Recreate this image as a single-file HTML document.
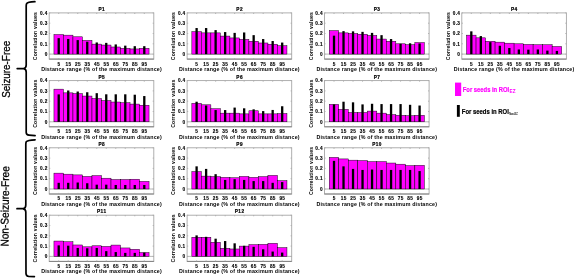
<!DOCTYPE html>
<html><head><meta charset="utf-8"><style>
html,body{margin:0;padding:0;background:#fff;}
body{width:575px;height:279px;overflow:hidden;}
svg{display:block;filter:blur(0.3px);}
text{font-family:"Liberation Sans",sans-serif;}
.t{font-size:4.7px;font-weight:bold;fill:#000;letter-spacing:0.5px;stroke:#000;stroke-width:0.2px;}
.k{font-size:4.7px;font-weight:bold;fill:#000;letter-spacing:0.35px;stroke:#000;stroke-width:0.12px;}
.xl{font-size:5.3px;font-weight:bold;fill:#000;letter-spacing:0.19px;}
.yl{font-size:5.2px;font-weight:bold;fill:#000;letter-spacing:0.17px;}
.sd{font-size:11.2px;fill:#000;stroke:#000;stroke-width:0.3px;}
.lg{font-size:6.9px;font-weight:bold;stroke-width:0.2px;}
.sb{font-size:4.6px;font-weight:bold;}
.sb2{font-size:3.4px;font-weight:bold;}
</style></head><body>
<svg width="575" height="279" viewBox="0 0 575 279">
<rect width="575" height="279" fill="#fff"/>
<path d="M49.20 54.10H153.80" stroke="#9a9a9a" stroke-width="0.7"/>
<rect x="53.95" y="34.53" width="9.51" height="19.57" fill="#ff00ff" stroke="#000" stroke-width="0.45"/>
<rect x="63.46" y="35.15" width="9.51" height="18.95" fill="#ff00ff" stroke="#000" stroke-width="0.45"/>
<rect x="72.97" y="36.80" width="9.51" height="17.30" fill="#ff00ff" stroke="#000" stroke-width="0.45"/>
<rect x="82.48" y="40.40" width="9.51" height="13.70" fill="#ff00ff" stroke="#000" stroke-width="0.45"/>
<rect x="91.99" y="44.11" width="9.51" height="9.99" fill="#ff00ff" stroke="#000" stroke-width="0.45"/>
<rect x="101.50" y="45.04" width="9.51" height="9.06" fill="#ff00ff" stroke="#000" stroke-width="0.45"/>
<rect x="111.01" y="46.99" width="9.51" height="7.11" fill="#ff00ff" stroke="#000" stroke-width="0.45"/>
<rect x="120.52" y="48.33" width="9.51" height="5.77" fill="#ff00ff" stroke="#000" stroke-width="0.45"/>
<rect x="130.03" y="48.95" width="9.51" height="5.15" fill="#ff00ff" stroke="#000" stroke-width="0.45"/>
<rect x="139.54" y="48.33" width="9.51" height="5.77" fill="#ff00ff" stroke="#000" stroke-width="0.45"/>
<rect x="57.56" y="38.14" width="2.30" height="15.96" fill="#000"/>
<rect x="67.07" y="38.96" width="2.30" height="15.14" fill="#000"/>
<rect x="76.58" y="40.09" width="2.30" height="14.01" fill="#000"/>
<rect x="86.09" y="41.74" width="2.30" height="12.36" fill="#000"/>
<rect x="95.60" y="42.46" width="2.30" height="11.64" fill="#000"/>
<rect x="105.10" y="42.87" width="2.30" height="11.23" fill="#000"/>
<rect x="114.61" y="44.42" width="2.30" height="9.68" fill="#000"/>
<rect x="124.12" y="45.65" width="2.30" height="8.45" fill="#000"/>
<rect x="133.63" y="46.17" width="2.30" height="7.93" fill="#000"/>
<rect x="143.14" y="46.17" width="2.30" height="7.93" fill="#000"/>
<rect x="49.20" y="12.90" width="104.60" height="46.20" fill="none" stroke="#a6a6a6" stroke-width="0.9"/>
<path d="M49.20 59.10H153.80" stroke="#7a7a7a" stroke-width="0.9"/>
<path d="M58.71 59.10v-1.1M58.71 12.90v1.1M68.22 59.10v-1.1M68.22 12.90v1.1M77.73 59.10v-1.1M77.73 12.90v1.1M87.24 59.10v-1.1M87.24 12.90v1.1M96.75 59.10v-1.1M96.75 12.90v1.1M106.25 59.10v-1.1M106.25 12.90v1.1M115.76 59.10v-1.1M115.76 12.90v1.1M125.27 59.10v-1.1M125.27 12.90v1.1M134.78 59.10v-1.1M134.78 12.90v1.1M144.29 59.10v-1.1M144.29 12.90v1.1M49.20 54.10h1.1M153.80 54.10h-1.1M49.20 43.80h1.1M153.80 43.80h-1.1M49.20 33.50h1.1M153.80 33.50h-1.1M49.20 23.20h1.1M153.80 23.20h-1.1M49.20 12.90h1.1M153.80 12.90h-1.1" stroke="#a6a6a6" stroke-width="0.8" fill="none"/>
<text x="101.75" y="11.00" class="t" text-anchor="middle">P1</text>
<text x="47.65" y="55.80" class="k" text-anchor="end">0</text>
<text x="47.65" y="45.50" class="k" text-anchor="end">0.1</text>
<text x="47.65" y="35.20" class="k" text-anchor="end">0.2</text>
<text x="47.65" y="24.90" class="k" text-anchor="end">0.3</text>
<text x="47.65" y="14.60" class="k" text-anchor="end">0.4</text>
<text x="58.88" y="65.50" class="k" text-anchor="middle">5</text>
<text x="68.39" y="65.50" class="k" text-anchor="middle">15</text>
<text x="77.90" y="65.50" class="k" text-anchor="middle">25</text>
<text x="87.41" y="65.50" class="k" text-anchor="middle">35</text>
<text x="96.92" y="65.50" class="k" text-anchor="middle">45</text>
<text x="106.42" y="65.50" class="k" text-anchor="middle">55</text>
<text x="115.93" y="65.50" class="k" text-anchor="middle">65</text>
<text x="125.44" y="65.50" class="k" text-anchor="middle">75</text>
<text x="134.95" y="65.50" class="k" text-anchor="middle">85</text>
<text x="144.46" y="65.50" class="k" text-anchor="middle">95</text>
<text x="101.50" y="71.10" class="xl" text-anchor="middle">Distance range (% of the maximum distance)</text>
<text transform="translate(37.40 36.00) rotate(-90)" class="yl" text-anchor="middle">Correlation values</text>
<path d="M187.10 54.10H291.70" stroke="#9a9a9a" stroke-width="0.7"/>
<rect x="191.85" y="31.65" width="9.51" height="22.45" fill="#ff00ff" stroke="#000" stroke-width="0.45"/>
<rect x="201.36" y="32.88" width="9.51" height="21.22" fill="#ff00ff" stroke="#000" stroke-width="0.45"/>
<rect x="210.87" y="32.88" width="9.51" height="21.22" fill="#ff00ff" stroke="#000" stroke-width="0.45"/>
<rect x="220.38" y="36.08" width="9.51" height="18.02" fill="#ff00ff" stroke="#000" stroke-width="0.45"/>
<rect x="229.89" y="37.93" width="9.51" height="16.17" fill="#ff00ff" stroke="#000" stroke-width="0.45"/>
<rect x="239.40" y="39.37" width="9.51" height="14.73" fill="#ff00ff" stroke="#000" stroke-width="0.45"/>
<rect x="248.91" y="41.23" width="9.51" height="12.88" fill="#ff00ff" stroke="#000" stroke-width="0.45"/>
<rect x="258.42" y="42.98" width="9.51" height="11.12" fill="#ff00ff" stroke="#000" stroke-width="0.45"/>
<rect x="267.93" y="44.21" width="9.51" height="9.89" fill="#ff00ff" stroke="#000" stroke-width="0.45"/>
<rect x="277.44" y="45.76" width="9.51" height="8.34" fill="#ff00ff" stroke="#000" stroke-width="0.45"/>
<rect x="195.46" y="28.04" width="2.30" height="26.06" fill="#000"/>
<rect x="204.97" y="28.04" width="2.30" height="26.06" fill="#000"/>
<rect x="214.48" y="30.10" width="2.30" height="24.00" fill="#000"/>
<rect x="223.99" y="32.06" width="2.30" height="22.04" fill="#000"/>
<rect x="233.50" y="32.88" width="2.30" height="21.22" fill="#000"/>
<rect x="243.00" y="32.47" width="2.30" height="21.63" fill="#000"/>
<rect x="252.51" y="35.15" width="2.30" height="18.95" fill="#000"/>
<rect x="262.02" y="39.06" width="2.30" height="15.04" fill="#000"/>
<rect x="271.53" y="41.02" width="2.30" height="13.08" fill="#000"/>
<rect x="281.04" y="42.56" width="2.30" height="11.54" fill="#000"/>
<rect x="187.10" y="12.90" width="104.60" height="46.20" fill="none" stroke="#a6a6a6" stroke-width="0.9"/>
<path d="M187.10 59.10H291.70" stroke="#7a7a7a" stroke-width="0.9"/>
<path d="M196.61 59.10v-1.1M196.61 12.90v1.1M206.12 59.10v-1.1M206.12 12.90v1.1M215.63 59.10v-1.1M215.63 12.90v1.1M225.14 59.10v-1.1M225.14 12.90v1.1M234.65 59.10v-1.1M234.65 12.90v1.1M244.15 59.10v-1.1M244.15 12.90v1.1M253.66 59.10v-1.1M253.66 12.90v1.1M263.17 59.10v-1.1M263.17 12.90v1.1M272.68 59.10v-1.1M272.68 12.90v1.1M282.19 59.10v-1.1M282.19 12.90v1.1M187.10 54.10h1.1M291.70 54.10h-1.1M187.10 43.80h1.1M291.70 43.80h-1.1M187.10 33.50h1.1M291.70 33.50h-1.1M187.10 23.20h1.1M291.70 23.20h-1.1M187.10 12.90h1.1M291.70 12.90h-1.1" stroke="#a6a6a6" stroke-width="0.8" fill="none"/>
<text x="239.65" y="11.00" class="t" text-anchor="middle">P2</text>
<text x="185.55" y="55.80" class="k" text-anchor="end">0</text>
<text x="185.55" y="45.50" class="k" text-anchor="end">0.1</text>
<text x="185.55" y="35.20" class="k" text-anchor="end">0.2</text>
<text x="185.55" y="24.90" class="k" text-anchor="end">0.3</text>
<text x="185.55" y="14.60" class="k" text-anchor="end">0.4</text>
<text x="196.78" y="65.50" class="k" text-anchor="middle">5</text>
<text x="206.29" y="65.50" class="k" text-anchor="middle">15</text>
<text x="215.80" y="65.50" class="k" text-anchor="middle">25</text>
<text x="225.31" y="65.50" class="k" text-anchor="middle">35</text>
<text x="234.82" y="65.50" class="k" text-anchor="middle">45</text>
<text x="244.32" y="65.50" class="k" text-anchor="middle">55</text>
<text x="253.83" y="65.50" class="k" text-anchor="middle">65</text>
<text x="263.34" y="65.50" class="k" text-anchor="middle">75</text>
<text x="272.85" y="65.50" class="k" text-anchor="middle">85</text>
<text x="282.36" y="65.50" class="k" text-anchor="middle">95</text>
<text x="239.40" y="71.10" class="xl" text-anchor="middle">Distance range (% of the maximum distance)</text>
<text transform="translate(175.30 36.00) rotate(-90)" class="yl" text-anchor="middle">Correlation values</text>
<path d="M324.50 54.10H429.10" stroke="#9a9a9a" stroke-width="0.7"/>
<rect x="329.25" y="30.62" width="9.51" height="23.48" fill="#ff00ff" stroke="#000" stroke-width="0.45"/>
<rect x="338.76" y="32.88" width="9.51" height="21.22" fill="#ff00ff" stroke="#000" stroke-width="0.45"/>
<rect x="348.27" y="33.50" width="9.51" height="20.60" fill="#ff00ff" stroke="#000" stroke-width="0.45"/>
<rect x="357.78" y="34.22" width="9.51" height="19.88" fill="#ff00ff" stroke="#000" stroke-width="0.45"/>
<rect x="367.29" y="35.46" width="9.51" height="18.64" fill="#ff00ff" stroke="#000" stroke-width="0.45"/>
<rect x="376.80" y="39.06" width="9.51" height="15.04" fill="#ff00ff" stroke="#000" stroke-width="0.45"/>
<rect x="386.31" y="41.23" width="9.51" height="12.88" fill="#ff00ff" stroke="#000" stroke-width="0.45"/>
<rect x="395.82" y="43.80" width="9.51" height="10.30" fill="#ff00ff" stroke="#000" stroke-width="0.45"/>
<rect x="405.33" y="44.73" width="9.51" height="9.37" fill="#ff00ff" stroke="#000" stroke-width="0.45"/>
<rect x="414.84" y="42.56" width="9.51" height="11.54" fill="#ff00ff" stroke="#000" stroke-width="0.45"/>
<rect x="332.86" y="35.66" width="2.30" height="18.44" fill="#000"/>
<rect x="342.37" y="31.13" width="2.30" height="22.97" fill="#000"/>
<rect x="351.88" y="31.34" width="2.30" height="22.76" fill="#000"/>
<rect x="361.39" y="31.85" width="2.30" height="22.25" fill="#000"/>
<rect x="370.90" y="32.88" width="2.30" height="21.22" fill="#000"/>
<rect x="380.40" y="35.15" width="2.30" height="18.95" fill="#000"/>
<rect x="389.91" y="39.06" width="2.30" height="15.04" fill="#000"/>
<rect x="399.42" y="43.80" width="2.30" height="10.30" fill="#000"/>
<rect x="408.93" y="43.29" width="2.30" height="10.81" fill="#000"/>
<rect x="418.44" y="43.49" width="2.30" height="10.61" fill="#000"/>
<rect x="324.50" y="12.90" width="104.60" height="46.20" fill="none" stroke="#a6a6a6" stroke-width="0.9"/>
<path d="M324.50 59.10H429.10" stroke="#7a7a7a" stroke-width="0.9"/>
<path d="M334.01 59.10v-1.1M334.01 12.90v1.1M343.52 59.10v-1.1M343.52 12.90v1.1M353.03 59.10v-1.1M353.03 12.90v1.1M362.54 59.10v-1.1M362.54 12.90v1.1M372.05 59.10v-1.1M372.05 12.90v1.1M381.55 59.10v-1.1M381.55 12.90v1.1M391.06 59.10v-1.1M391.06 12.90v1.1M400.57 59.10v-1.1M400.57 12.90v1.1M410.08 59.10v-1.1M410.08 12.90v1.1M419.59 59.10v-1.1M419.59 12.90v1.1M324.50 54.10h1.1M429.10 54.10h-1.1M324.50 43.80h1.1M429.10 43.80h-1.1M324.50 33.50h1.1M429.10 33.50h-1.1M324.50 23.20h1.1M429.10 23.20h-1.1M324.50 12.90h1.1M429.10 12.90h-1.1" stroke="#a6a6a6" stroke-width="0.8" fill="none"/>
<text x="377.05" y="11.00" class="t" text-anchor="middle">P3</text>
<text x="322.95" y="55.80" class="k" text-anchor="end">0</text>
<text x="322.95" y="45.50" class="k" text-anchor="end">0.1</text>
<text x="322.95" y="35.20" class="k" text-anchor="end">0.2</text>
<text x="322.95" y="24.90" class="k" text-anchor="end">0.3</text>
<text x="322.95" y="14.60" class="k" text-anchor="end">0.4</text>
<text x="334.18" y="65.50" class="k" text-anchor="middle">5</text>
<text x="343.69" y="65.50" class="k" text-anchor="middle">15</text>
<text x="353.20" y="65.50" class="k" text-anchor="middle">25</text>
<text x="362.71" y="65.50" class="k" text-anchor="middle">35</text>
<text x="372.22" y="65.50" class="k" text-anchor="middle">45</text>
<text x="381.72" y="65.50" class="k" text-anchor="middle">55</text>
<text x="391.23" y="65.50" class="k" text-anchor="middle">65</text>
<text x="400.74" y="65.50" class="k" text-anchor="middle">75</text>
<text x="410.25" y="65.50" class="k" text-anchor="middle">85</text>
<text x="419.76" y="65.50" class="k" text-anchor="middle">95</text>
<text x="376.80" y="71.10" class="xl" text-anchor="middle">Distance range (% of the maximum distance)</text>
<text transform="translate(312.70 36.00) rotate(-90)" class="yl" text-anchor="middle">Correlation values</text>
<path d="M461.80 54.10H566.40" stroke="#9a9a9a" stroke-width="0.7"/>
<rect x="466.55" y="35.15" width="9.51" height="18.95" fill="#ff00ff" stroke="#000" stroke-width="0.45"/>
<rect x="476.06" y="37.83" width="9.51" height="16.27" fill="#ff00ff" stroke="#000" stroke-width="0.45"/>
<rect x="485.57" y="41.23" width="9.51" height="12.88" fill="#ff00ff" stroke="#000" stroke-width="0.45"/>
<rect x="495.08" y="42.15" width="9.51" height="11.95" fill="#ff00ff" stroke="#000" stroke-width="0.45"/>
<rect x="504.59" y="43.18" width="9.51" height="10.92" fill="#ff00ff" stroke="#000" stroke-width="0.45"/>
<rect x="514.10" y="43.80" width="9.51" height="10.30" fill="#ff00ff" stroke="#000" stroke-width="0.45"/>
<rect x="523.61" y="44.42" width="9.51" height="9.68" fill="#ff00ff" stroke="#000" stroke-width="0.45"/>
<rect x="533.12" y="44.73" width="9.51" height="9.37" fill="#ff00ff" stroke="#000" stroke-width="0.45"/>
<rect x="542.63" y="44.73" width="9.51" height="9.37" fill="#ff00ff" stroke="#000" stroke-width="0.45"/>
<rect x="552.14" y="46.48" width="9.51" height="7.62" fill="#ff00ff" stroke="#000" stroke-width="0.45"/>
<rect x="470.16" y="31.34" width="2.30" height="22.76" fill="#000"/>
<rect x="479.67" y="36.08" width="2.30" height="18.02" fill="#000"/>
<rect x="489.18" y="42.15" width="2.30" height="11.95" fill="#000"/>
<rect x="498.69" y="45.76" width="2.30" height="8.34" fill="#000"/>
<rect x="508.20" y="48.02" width="2.30" height="6.08" fill="#000"/>
<rect x="517.70" y="49.47" width="2.30" height="4.63" fill="#000"/>
<rect x="527.21" y="49.67" width="2.30" height="4.43" fill="#000"/>
<rect x="536.72" y="49.47" width="2.30" height="4.63" fill="#000"/>
<rect x="546.23" y="50.60" width="2.30" height="3.50" fill="#000"/>
<rect x="555.74" y="50.91" width="2.30" height="3.19" fill="#000"/>
<rect x="461.80" y="12.90" width="104.60" height="46.20" fill="none" stroke="#a6a6a6" stroke-width="0.9"/>
<path d="M461.80 59.10H566.40" stroke="#7a7a7a" stroke-width="0.9"/>
<path d="M471.31 59.10v-1.1M471.31 12.90v1.1M480.82 59.10v-1.1M480.82 12.90v1.1M490.33 59.10v-1.1M490.33 12.90v1.1M499.84 59.10v-1.1M499.84 12.90v1.1M509.35 59.10v-1.1M509.35 12.90v1.1M518.85 59.10v-1.1M518.85 12.90v1.1M528.36 59.10v-1.1M528.36 12.90v1.1M537.87 59.10v-1.1M537.87 12.90v1.1M547.38 59.10v-1.1M547.38 12.90v1.1M556.89 59.10v-1.1M556.89 12.90v1.1M461.80 54.10h1.1M566.40 54.10h-1.1M461.80 43.80h1.1M566.40 43.80h-1.1M461.80 33.50h1.1M566.40 33.50h-1.1M461.80 23.20h1.1M566.40 23.20h-1.1M461.80 12.90h1.1M566.40 12.90h-1.1" stroke="#a6a6a6" stroke-width="0.8" fill="none"/>
<text x="514.35" y="11.00" class="t" text-anchor="middle">P4</text>
<text x="460.25" y="55.80" class="k" text-anchor="end">0</text>
<text x="460.25" y="45.50" class="k" text-anchor="end">0.1</text>
<text x="460.25" y="35.20" class="k" text-anchor="end">0.2</text>
<text x="460.25" y="24.90" class="k" text-anchor="end">0.3</text>
<text x="460.25" y="14.60" class="k" text-anchor="end">0.4</text>
<text x="471.48" y="65.50" class="k" text-anchor="middle">5</text>
<text x="480.99" y="65.50" class="k" text-anchor="middle">15</text>
<text x="490.50" y="65.50" class="k" text-anchor="middle">25</text>
<text x="500.01" y="65.50" class="k" text-anchor="middle">35</text>
<text x="509.52" y="65.50" class="k" text-anchor="middle">45</text>
<text x="519.02" y="65.50" class="k" text-anchor="middle">55</text>
<text x="528.53" y="65.50" class="k" text-anchor="middle">65</text>
<text x="538.04" y="65.50" class="k" text-anchor="middle">75</text>
<text x="547.55" y="65.50" class="k" text-anchor="middle">85</text>
<text x="557.06" y="65.50" class="k" text-anchor="middle">95</text>
<text x="514.10" y="71.10" class="xl" text-anchor="middle">Distance range (% of the maximum distance)</text>
<text transform="translate(450.00 36.00) rotate(-90)" class="yl" text-anchor="middle">Correlation values</text>
<path d="M49.20 121.80H153.80" stroke="#9a9a9a" stroke-width="0.7"/>
<rect x="53.95" y="89.15" width="9.51" height="32.65" fill="#ff00ff" stroke="#000" stroke-width="0.45"/>
<rect x="63.46" y="92.86" width="9.51" height="28.94" fill="#ff00ff" stroke="#000" stroke-width="0.45"/>
<rect x="72.97" y="93.58" width="9.51" height="28.22" fill="#ff00ff" stroke="#000" stroke-width="0.45"/>
<rect x="82.48" y="96.05" width="9.51" height="25.75" fill="#ff00ff" stroke="#000" stroke-width="0.45"/>
<rect x="91.99" y="98.52" width="9.51" height="23.28" fill="#ff00ff" stroke="#000" stroke-width="0.45"/>
<rect x="101.50" y="100.58" width="9.51" height="21.22" fill="#ff00ff" stroke="#000" stroke-width="0.45"/>
<rect x="111.01" y="102.02" width="9.51" height="19.78" fill="#ff00ff" stroke="#000" stroke-width="0.45"/>
<rect x="120.52" y="102.75" width="9.51" height="19.05" fill="#ff00ff" stroke="#000" stroke-width="0.45"/>
<rect x="130.03" y="104.08" width="9.51" height="17.72" fill="#ff00ff" stroke="#000" stroke-width="0.45"/>
<rect x="139.54" y="105.22" width="9.51" height="16.58" fill="#ff00ff" stroke="#000" stroke-width="0.45"/>
<rect x="57.56" y="94.40" width="2.30" height="27.40" fill="#000"/>
<rect x="67.07" y="90.49" width="2.30" height="31.31" fill="#000"/>
<rect x="76.58" y="91.52" width="2.30" height="30.28" fill="#000"/>
<rect x="86.09" y="92.24" width="2.30" height="29.56" fill="#000"/>
<rect x="95.60" y="93.17" width="2.30" height="28.63" fill="#000"/>
<rect x="105.10" y="94.30" width="2.30" height="27.50" fill="#000"/>
<rect x="114.61" y="94.30" width="2.30" height="27.50" fill="#000"/>
<rect x="124.12" y="94.30" width="2.30" height="27.50" fill="#000"/>
<rect x="133.63" y="94.71" width="2.30" height="27.09" fill="#000"/>
<rect x="143.14" y="96.05" width="2.30" height="25.75" fill="#000"/>
<rect x="49.20" y="80.60" width="104.60" height="46.20" fill="none" stroke="#a6a6a6" stroke-width="0.9"/>
<path d="M49.20 126.80H153.80" stroke="#7a7a7a" stroke-width="0.9"/>
<path d="M58.71 126.80v-1.1M58.71 80.60v1.1M68.22 126.80v-1.1M68.22 80.60v1.1M77.73 126.80v-1.1M77.73 80.60v1.1M87.24 126.80v-1.1M87.24 80.60v1.1M96.75 126.80v-1.1M96.75 80.60v1.1M106.25 126.80v-1.1M106.25 80.60v1.1M115.76 126.80v-1.1M115.76 80.60v1.1M125.27 126.80v-1.1M125.27 80.60v1.1M134.78 126.80v-1.1M134.78 80.60v1.1M144.29 126.80v-1.1M144.29 80.60v1.1M49.20 121.80h1.1M153.80 121.80h-1.1M49.20 111.50h1.1M153.80 111.50h-1.1M49.20 101.20h1.1M153.80 101.20h-1.1M49.20 90.90h1.1M153.80 90.90h-1.1M49.20 80.60h1.1M153.80 80.60h-1.1" stroke="#a6a6a6" stroke-width="0.8" fill="none"/>
<text x="101.75" y="78.70" class="t" text-anchor="middle">P5</text>
<text x="47.65" y="123.50" class="k" text-anchor="end">0</text>
<text x="47.65" y="113.20" class="k" text-anchor="end">0.1</text>
<text x="47.65" y="102.90" class="k" text-anchor="end">0.2</text>
<text x="47.65" y="92.60" class="k" text-anchor="end">0.3</text>
<text x="47.65" y="82.30" class="k" text-anchor="end">0.4</text>
<text x="58.88" y="133.20" class="k" text-anchor="middle">5</text>
<text x="68.39" y="133.20" class="k" text-anchor="middle">15</text>
<text x="77.90" y="133.20" class="k" text-anchor="middle">25</text>
<text x="87.41" y="133.20" class="k" text-anchor="middle">35</text>
<text x="96.92" y="133.20" class="k" text-anchor="middle">45</text>
<text x="106.42" y="133.20" class="k" text-anchor="middle">55</text>
<text x="115.93" y="133.20" class="k" text-anchor="middle">65</text>
<text x="125.44" y="133.20" class="k" text-anchor="middle">75</text>
<text x="134.95" y="133.20" class="k" text-anchor="middle">85</text>
<text x="144.46" y="133.20" class="k" text-anchor="middle">95</text>
<text x="101.50" y="138.80" class="xl" text-anchor="middle">Distance range (% of the maximum distance)</text>
<text transform="translate(37.40 103.70) rotate(-90)" class="yl" text-anchor="middle">Correlation values</text>
<path d="M187.10 121.80H291.70" stroke="#9a9a9a" stroke-width="0.7"/>
<rect x="191.85" y="103.36" width="9.51" height="18.44" fill="#ff00ff" stroke="#000" stroke-width="0.45"/>
<rect x="201.36" y="104.80" width="9.51" height="17.00" fill="#ff00ff" stroke="#000" stroke-width="0.45"/>
<rect x="210.87" y="108.72" width="9.51" height="13.08" fill="#ff00ff" stroke="#000" stroke-width="0.45"/>
<rect x="220.38" y="113.15" width="9.51" height="8.65" fill="#ff00ff" stroke="#000" stroke-width="0.45"/>
<rect x="229.89" y="113.15" width="9.51" height="8.65" fill="#ff00ff" stroke="#000" stroke-width="0.45"/>
<rect x="239.40" y="113.87" width="9.51" height="7.93" fill="#ff00ff" stroke="#000" stroke-width="0.45"/>
<rect x="248.91" y="110.78" width="9.51" height="11.02" fill="#ff00ff" stroke="#000" stroke-width="0.45"/>
<rect x="258.42" y="113.87" width="9.51" height="7.93" fill="#ff00ff" stroke="#000" stroke-width="0.45"/>
<rect x="267.93" y="113.87" width="9.51" height="7.93" fill="#ff00ff" stroke="#000" stroke-width="0.45"/>
<rect x="277.44" y="113.56" width="9.51" height="8.24" fill="#ff00ff" stroke="#000" stroke-width="0.45"/>
<rect x="195.46" y="101.72" width="2.30" height="20.09" fill="#000"/>
<rect x="204.97" y="105.53" width="2.30" height="16.27" fill="#000"/>
<rect x="214.48" y="110.06" width="2.30" height="11.74" fill="#000"/>
<rect x="223.99" y="110.06" width="2.30" height="11.74" fill="#000"/>
<rect x="233.50" y="107.59" width="2.30" height="14.21" fill="#000"/>
<rect x="243.00" y="108.31" width="2.30" height="13.49" fill="#000"/>
<rect x="252.51" y="109.34" width="2.30" height="12.46" fill="#000"/>
<rect x="262.02" y="111.09" width="2.30" height="10.71" fill="#000"/>
<rect x="271.53" y="109.95" width="2.30" height="11.85" fill="#000"/>
<rect x="281.04" y="106.25" width="2.30" height="15.55" fill="#000"/>
<rect x="187.10" y="80.60" width="104.60" height="46.20" fill="none" stroke="#a6a6a6" stroke-width="0.9"/>
<path d="M187.10 126.80H291.70" stroke="#7a7a7a" stroke-width="0.9"/>
<path d="M196.61 126.80v-1.1M196.61 80.60v1.1M206.12 126.80v-1.1M206.12 80.60v1.1M215.63 126.80v-1.1M215.63 80.60v1.1M225.14 126.80v-1.1M225.14 80.60v1.1M234.65 126.80v-1.1M234.65 80.60v1.1M244.15 126.80v-1.1M244.15 80.60v1.1M253.66 126.80v-1.1M253.66 80.60v1.1M263.17 126.80v-1.1M263.17 80.60v1.1M272.68 126.80v-1.1M272.68 80.60v1.1M282.19 126.80v-1.1M282.19 80.60v1.1M187.10 121.80h1.1M291.70 121.80h-1.1M187.10 111.50h1.1M291.70 111.50h-1.1M187.10 101.20h1.1M291.70 101.20h-1.1M187.10 90.90h1.1M291.70 90.90h-1.1M187.10 80.60h1.1M291.70 80.60h-1.1" stroke="#a6a6a6" stroke-width="0.8" fill="none"/>
<text x="239.65" y="78.70" class="t" text-anchor="middle">P6</text>
<text x="185.55" y="123.50" class="k" text-anchor="end">0</text>
<text x="185.55" y="113.20" class="k" text-anchor="end">0.1</text>
<text x="185.55" y="102.90" class="k" text-anchor="end">0.2</text>
<text x="185.55" y="92.60" class="k" text-anchor="end">0.3</text>
<text x="185.55" y="82.30" class="k" text-anchor="end">0.4</text>
<text x="196.78" y="133.20" class="k" text-anchor="middle">5</text>
<text x="206.29" y="133.20" class="k" text-anchor="middle">15</text>
<text x="215.80" y="133.20" class="k" text-anchor="middle">25</text>
<text x="225.31" y="133.20" class="k" text-anchor="middle">35</text>
<text x="234.82" y="133.20" class="k" text-anchor="middle">45</text>
<text x="244.32" y="133.20" class="k" text-anchor="middle">55</text>
<text x="253.83" y="133.20" class="k" text-anchor="middle">65</text>
<text x="263.34" y="133.20" class="k" text-anchor="middle">75</text>
<text x="272.85" y="133.20" class="k" text-anchor="middle">85</text>
<text x="282.36" y="133.20" class="k" text-anchor="middle">95</text>
<text x="239.40" y="138.80" class="xl" text-anchor="middle">Distance range (% of the maximum distance)</text>
<text transform="translate(175.30 103.70) rotate(-90)" class="yl" text-anchor="middle">Correlation values</text>
<path d="M324.50 121.80H429.10" stroke="#9a9a9a" stroke-width="0.7"/>
<rect x="329.25" y="104.39" width="9.51" height="17.41" fill="#ff00ff" stroke="#000" stroke-width="0.45"/>
<rect x="338.76" y="109.34" width="9.51" height="12.46" fill="#ff00ff" stroke="#000" stroke-width="0.45"/>
<rect x="348.27" y="112.53" width="9.51" height="9.27" fill="#ff00ff" stroke="#000" stroke-width="0.45"/>
<rect x="357.78" y="112.53" width="9.51" height="9.27" fill="#ff00ff" stroke="#000" stroke-width="0.45"/>
<rect x="367.29" y="111.09" width="9.51" height="10.71" fill="#ff00ff" stroke="#000" stroke-width="0.45"/>
<rect x="376.80" y="113.15" width="9.51" height="8.65" fill="#ff00ff" stroke="#000" stroke-width="0.45"/>
<rect x="386.31" y="114.59" width="9.51" height="7.21" fill="#ff00ff" stroke="#000" stroke-width="0.45"/>
<rect x="395.82" y="115.31" width="9.51" height="6.49" fill="#ff00ff" stroke="#000" stroke-width="0.45"/>
<rect x="405.33" y="115.72" width="9.51" height="6.08" fill="#ff00ff" stroke="#000" stroke-width="0.45"/>
<rect x="414.84" y="115.31" width="9.51" height="6.49" fill="#ff00ff" stroke="#000" stroke-width="0.45"/>
<rect x="332.86" y="104.39" width="2.30" height="17.41" fill="#000"/>
<rect x="342.37" y="101.72" width="2.30" height="20.09" fill="#000"/>
<rect x="351.88" y="102.33" width="2.30" height="19.47" fill="#000"/>
<rect x="361.39" y="104.39" width="2.30" height="17.41" fill="#000"/>
<rect x="370.90" y="103.78" width="2.30" height="18.02" fill="#000"/>
<rect x="380.40" y="104.08" width="2.30" height="17.72" fill="#000"/>
<rect x="389.91" y="104.08" width="2.30" height="17.72" fill="#000"/>
<rect x="399.42" y="104.08" width="2.30" height="17.72" fill="#000"/>
<rect x="408.93" y="104.80" width="2.30" height="17.00" fill="#000"/>
<rect x="418.44" y="105.53" width="2.30" height="16.27" fill="#000"/>
<rect x="324.50" y="80.60" width="104.60" height="46.20" fill="none" stroke="#a6a6a6" stroke-width="0.9"/>
<path d="M324.50 126.80H429.10" stroke="#7a7a7a" stroke-width="0.9"/>
<path d="M334.01 126.80v-1.1M334.01 80.60v1.1M343.52 126.80v-1.1M343.52 80.60v1.1M353.03 126.80v-1.1M353.03 80.60v1.1M362.54 126.80v-1.1M362.54 80.60v1.1M372.05 126.80v-1.1M372.05 80.60v1.1M381.55 126.80v-1.1M381.55 80.60v1.1M391.06 126.80v-1.1M391.06 80.60v1.1M400.57 126.80v-1.1M400.57 80.60v1.1M410.08 126.80v-1.1M410.08 80.60v1.1M419.59 126.80v-1.1M419.59 80.60v1.1M324.50 121.80h1.1M429.10 121.80h-1.1M324.50 111.50h1.1M429.10 111.50h-1.1M324.50 101.20h1.1M429.10 101.20h-1.1M324.50 90.90h1.1M429.10 90.90h-1.1M324.50 80.60h1.1M429.10 80.60h-1.1" stroke="#a6a6a6" stroke-width="0.8" fill="none"/>
<text x="377.05" y="78.70" class="t" text-anchor="middle">P7</text>
<text x="322.95" y="123.50" class="k" text-anchor="end">0</text>
<text x="322.95" y="113.20" class="k" text-anchor="end">0.1</text>
<text x="322.95" y="102.90" class="k" text-anchor="end">0.2</text>
<text x="322.95" y="92.60" class="k" text-anchor="end">0.3</text>
<text x="322.95" y="82.30" class="k" text-anchor="end">0.4</text>
<text x="334.18" y="133.20" class="k" text-anchor="middle">5</text>
<text x="343.69" y="133.20" class="k" text-anchor="middle">15</text>
<text x="353.20" y="133.20" class="k" text-anchor="middle">25</text>
<text x="362.71" y="133.20" class="k" text-anchor="middle">35</text>
<text x="372.22" y="133.20" class="k" text-anchor="middle">45</text>
<text x="381.72" y="133.20" class="k" text-anchor="middle">55</text>
<text x="391.23" y="133.20" class="k" text-anchor="middle">65</text>
<text x="400.74" y="133.20" class="k" text-anchor="middle">75</text>
<text x="410.25" y="133.20" class="k" text-anchor="middle">85</text>
<text x="419.76" y="133.20" class="k" text-anchor="middle">95</text>
<text x="376.80" y="138.80" class="xl" text-anchor="middle">Distance range (% of the maximum distance)</text>
<text transform="translate(312.70 103.70) rotate(-90)" class="yl" text-anchor="middle">Correlation values</text>
<path d="M49.20 189.00H153.80" stroke="#9a9a9a" stroke-width="0.7"/>
<rect x="53.95" y="173.14" width="9.51" height="15.86" fill="#ff00ff" stroke="#000" stroke-width="0.45"/>
<rect x="63.46" y="174.17" width="9.51" height="14.83" fill="#ff00ff" stroke="#000" stroke-width="0.45"/>
<rect x="72.97" y="174.89" width="9.51" height="14.11" fill="#ff00ff" stroke="#000" stroke-width="0.45"/>
<rect x="82.48" y="176.43" width="9.51" height="12.57" fill="#ff00ff" stroke="#000" stroke-width="0.45"/>
<rect x="91.99" y="175.61" width="9.51" height="13.39" fill="#ff00ff" stroke="#000" stroke-width="0.45"/>
<rect x="101.50" y="178.19" width="9.51" height="10.81" fill="#ff00ff" stroke="#000" stroke-width="0.45"/>
<rect x="111.01" y="179.52" width="9.51" height="9.48" fill="#ff00ff" stroke="#000" stroke-width="0.45"/>
<rect x="120.52" y="179.52" width="9.51" height="9.48" fill="#ff00ff" stroke="#000" stroke-width="0.45"/>
<rect x="130.03" y="179.22" width="9.51" height="9.79" fill="#ff00ff" stroke="#000" stroke-width="0.45"/>
<rect x="139.54" y="181.38" width="9.51" height="7.62" fill="#ff00ff" stroke="#000" stroke-width="0.45"/>
<rect x="57.56" y="182.82" width="2.30" height="6.18" fill="#000"/>
<rect x="67.07" y="182.82" width="2.30" height="6.18" fill="#000"/>
<rect x="76.58" y="182.51" width="2.30" height="6.49" fill="#000"/>
<rect x="86.09" y="183.23" width="2.30" height="5.77" fill="#000"/>
<rect x="95.60" y="184.67" width="2.30" height="4.33" fill="#000"/>
<rect x="105.10" y="184.67" width="2.30" height="4.33" fill="#000"/>
<rect x="114.61" y="184.98" width="2.30" height="4.02" fill="#000"/>
<rect x="124.12" y="184.98" width="2.30" height="4.02" fill="#000"/>
<rect x="133.63" y="184.98" width="2.30" height="4.02" fill="#000"/>
<rect x="143.14" y="184.98" width="2.30" height="4.02" fill="#000"/>
<rect x="49.20" y="147.80" width="104.60" height="46.20" fill="none" stroke="#a6a6a6" stroke-width="0.9"/>
<path d="M49.20 194.00H153.80" stroke="#7a7a7a" stroke-width="0.9"/>
<path d="M58.71 194.00v-1.1M58.71 147.80v1.1M68.22 194.00v-1.1M68.22 147.80v1.1M77.73 194.00v-1.1M77.73 147.80v1.1M87.24 194.00v-1.1M87.24 147.80v1.1M96.75 194.00v-1.1M96.75 147.80v1.1M106.25 194.00v-1.1M106.25 147.80v1.1M115.76 194.00v-1.1M115.76 147.80v1.1M125.27 194.00v-1.1M125.27 147.80v1.1M134.78 194.00v-1.1M134.78 147.80v1.1M144.29 194.00v-1.1M144.29 147.80v1.1M49.20 189.00h1.1M153.80 189.00h-1.1M49.20 178.70h1.1M153.80 178.70h-1.1M49.20 168.40h1.1M153.80 168.40h-1.1M49.20 158.10h1.1M153.80 158.10h-1.1M49.20 147.80h1.1M153.80 147.80h-1.1" stroke="#a6a6a6" stroke-width="0.8" fill="none"/>
<text x="101.75" y="145.90" class="t" text-anchor="middle">P8</text>
<text x="47.65" y="190.70" class="k" text-anchor="end">0</text>
<text x="47.65" y="180.40" class="k" text-anchor="end">0.1</text>
<text x="47.65" y="170.10" class="k" text-anchor="end">0.2</text>
<text x="47.65" y="159.80" class="k" text-anchor="end">0.3</text>
<text x="47.65" y="149.50" class="k" text-anchor="end">0.4</text>
<text x="58.88" y="200.40" class="k" text-anchor="middle">5</text>
<text x="68.39" y="200.40" class="k" text-anchor="middle">15</text>
<text x="77.90" y="200.40" class="k" text-anchor="middle">25</text>
<text x="87.41" y="200.40" class="k" text-anchor="middle">35</text>
<text x="96.92" y="200.40" class="k" text-anchor="middle">45</text>
<text x="106.42" y="200.40" class="k" text-anchor="middle">55</text>
<text x="115.93" y="200.40" class="k" text-anchor="middle">65</text>
<text x="125.44" y="200.40" class="k" text-anchor="middle">75</text>
<text x="134.95" y="200.40" class="k" text-anchor="middle">85</text>
<text x="144.46" y="200.40" class="k" text-anchor="middle">95</text>
<text x="101.50" y="206.00" class="xl" text-anchor="middle">Distance range (% of the maximum distance)</text>
<text transform="translate(37.40 170.90) rotate(-90)" class="yl" text-anchor="middle">Correlation values</text>
<path d="M187.10 189.00H291.70" stroke="#9a9a9a" stroke-width="0.7"/>
<rect x="191.85" y="171.59" width="9.51" height="17.41" fill="#ff00ff" stroke="#000" stroke-width="0.45"/>
<rect x="201.36" y="176.12" width="9.51" height="12.88" fill="#ff00ff" stroke="#000" stroke-width="0.45"/>
<rect x="210.87" y="176.64" width="9.51" height="12.36" fill="#ff00ff" stroke="#000" stroke-width="0.45"/>
<rect x="220.38" y="177.36" width="9.51" height="11.64" fill="#ff00ff" stroke="#000" stroke-width="0.45"/>
<rect x="229.89" y="177.77" width="9.51" height="11.23" fill="#ff00ff" stroke="#000" stroke-width="0.45"/>
<rect x="239.40" y="176.43" width="9.51" height="12.57" fill="#ff00ff" stroke="#000" stroke-width="0.45"/>
<rect x="248.91" y="177.36" width="9.51" height="11.64" fill="#ff00ff" stroke="#000" stroke-width="0.45"/>
<rect x="258.42" y="176.64" width="9.51" height="12.36" fill="#ff00ff" stroke="#000" stroke-width="0.45"/>
<rect x="267.93" y="175.40" width="9.51" height="13.60" fill="#ff00ff" stroke="#000" stroke-width="0.45"/>
<rect x="277.44" y="180.66" width="9.51" height="8.34" fill="#ff00ff" stroke="#000" stroke-width="0.45"/>
<rect x="195.46" y="166.34" width="2.30" height="22.66" fill="#000"/>
<rect x="204.97" y="168.91" width="2.30" height="20.09" fill="#000"/>
<rect x="214.48" y="174.17" width="2.30" height="14.83" fill="#000"/>
<rect x="223.99" y="179.94" width="2.30" height="9.06" fill="#000"/>
<rect x="233.50" y="179.22" width="2.30" height="9.79" fill="#000"/>
<rect x="243.00" y="179.94" width="2.30" height="9.06" fill="#000"/>
<rect x="252.51" y="181.07" width="2.30" height="7.93" fill="#000"/>
<rect x="262.02" y="181.07" width="2.30" height="7.93" fill="#000"/>
<rect x="271.53" y="182.82" width="2.30" height="6.18" fill="#000"/>
<rect x="281.04" y="182.10" width="2.30" height="6.90" fill="#000"/>
<rect x="187.10" y="147.80" width="104.60" height="46.20" fill="none" stroke="#a6a6a6" stroke-width="0.9"/>
<path d="M187.10 194.00H291.70" stroke="#7a7a7a" stroke-width="0.9"/>
<path d="M196.61 194.00v-1.1M196.61 147.80v1.1M206.12 194.00v-1.1M206.12 147.80v1.1M215.63 194.00v-1.1M215.63 147.80v1.1M225.14 194.00v-1.1M225.14 147.80v1.1M234.65 194.00v-1.1M234.65 147.80v1.1M244.15 194.00v-1.1M244.15 147.80v1.1M253.66 194.00v-1.1M253.66 147.80v1.1M263.17 194.00v-1.1M263.17 147.80v1.1M272.68 194.00v-1.1M272.68 147.80v1.1M282.19 194.00v-1.1M282.19 147.80v1.1M187.10 189.00h1.1M291.70 189.00h-1.1M187.10 178.70h1.1M291.70 178.70h-1.1M187.10 168.40h1.1M291.70 168.40h-1.1M187.10 158.10h1.1M291.70 158.10h-1.1M187.10 147.80h1.1M291.70 147.80h-1.1" stroke="#a6a6a6" stroke-width="0.8" fill="none"/>
<text x="239.65" y="145.90" class="t" text-anchor="middle">P9</text>
<text x="185.55" y="190.70" class="k" text-anchor="end">0</text>
<text x="185.55" y="180.40" class="k" text-anchor="end">0.1</text>
<text x="185.55" y="170.10" class="k" text-anchor="end">0.2</text>
<text x="185.55" y="159.80" class="k" text-anchor="end">0.3</text>
<text x="185.55" y="149.50" class="k" text-anchor="end">0.4</text>
<text x="196.78" y="200.40" class="k" text-anchor="middle">5</text>
<text x="206.29" y="200.40" class="k" text-anchor="middle">15</text>
<text x="215.80" y="200.40" class="k" text-anchor="middle">25</text>
<text x="225.31" y="200.40" class="k" text-anchor="middle">35</text>
<text x="234.82" y="200.40" class="k" text-anchor="middle">45</text>
<text x="244.32" y="200.40" class="k" text-anchor="middle">55</text>
<text x="253.83" y="200.40" class="k" text-anchor="middle">65</text>
<text x="263.34" y="200.40" class="k" text-anchor="middle">75</text>
<text x="272.85" y="200.40" class="k" text-anchor="middle">85</text>
<text x="282.36" y="200.40" class="k" text-anchor="middle">95</text>
<text x="239.40" y="206.00" class="xl" text-anchor="middle">Distance range (% of the maximum distance)</text>
<text transform="translate(175.30 170.90) rotate(-90)" class="yl" text-anchor="middle">Correlation values</text>
<path d="M324.50 189.00H429.10" stroke="#9a9a9a" stroke-width="0.7"/>
<rect x="329.25" y="157.38" width="9.51" height="31.62" fill="#ff00ff" stroke="#000" stroke-width="0.45"/>
<rect x="338.76" y="158.92" width="9.51" height="30.08" fill="#ff00ff" stroke="#000" stroke-width="0.45"/>
<rect x="348.27" y="160.16" width="9.51" height="28.84" fill="#ff00ff" stroke="#000" stroke-width="0.45"/>
<rect x="357.78" y="160.57" width="9.51" height="28.43" fill="#ff00ff" stroke="#000" stroke-width="0.45"/>
<rect x="367.29" y="161.60" width="9.51" height="27.40" fill="#ff00ff" stroke="#000" stroke-width="0.45"/>
<rect x="376.80" y="161.60" width="9.51" height="27.40" fill="#ff00ff" stroke="#000" stroke-width="0.45"/>
<rect x="386.31" y="163.04" width="9.51" height="25.96" fill="#ff00ff" stroke="#000" stroke-width="0.45"/>
<rect x="395.82" y="164.18" width="9.51" height="24.82" fill="#ff00ff" stroke="#000" stroke-width="0.45"/>
<rect x="405.33" y="165.62" width="9.51" height="23.38" fill="#ff00ff" stroke="#000" stroke-width="0.45"/>
<rect x="414.84" y="165.31" width="9.51" height="23.69" fill="#ff00ff" stroke="#000" stroke-width="0.45"/>
<rect x="332.86" y="160.88" width="2.30" height="28.12" fill="#000"/>
<rect x="342.37" y="166.34" width="2.30" height="22.66" fill="#000"/>
<rect x="351.88" y="168.91" width="2.30" height="20.09" fill="#000"/>
<rect x="361.39" y="169.94" width="2.30" height="19.05" fill="#000"/>
<rect x="370.90" y="169.53" width="2.30" height="19.47" fill="#000"/>
<rect x="380.40" y="169.94" width="2.30" height="19.05" fill="#000"/>
<rect x="389.91" y="169.94" width="2.30" height="19.05" fill="#000"/>
<rect x="399.42" y="169.94" width="2.30" height="19.05" fill="#000"/>
<rect x="408.93" y="169.94" width="2.30" height="19.05" fill="#000"/>
<rect x="418.44" y="171.08" width="2.30" height="17.92" fill="#000"/>
<rect x="324.50" y="147.80" width="104.60" height="46.20" fill="none" stroke="#a6a6a6" stroke-width="0.9"/>
<path d="M324.50 194.00H429.10" stroke="#7a7a7a" stroke-width="0.9"/>
<path d="M334.01 194.00v-1.1M334.01 147.80v1.1M343.52 194.00v-1.1M343.52 147.80v1.1M353.03 194.00v-1.1M353.03 147.80v1.1M362.54 194.00v-1.1M362.54 147.80v1.1M372.05 194.00v-1.1M372.05 147.80v1.1M381.55 194.00v-1.1M381.55 147.80v1.1M391.06 194.00v-1.1M391.06 147.80v1.1M400.57 194.00v-1.1M400.57 147.80v1.1M410.08 194.00v-1.1M410.08 147.80v1.1M419.59 194.00v-1.1M419.59 147.80v1.1M324.50 189.00h1.1M429.10 189.00h-1.1M324.50 178.70h1.1M429.10 178.70h-1.1M324.50 168.40h1.1M429.10 168.40h-1.1M324.50 158.10h1.1M429.10 158.10h-1.1M324.50 147.80h1.1M429.10 147.80h-1.1" stroke="#a6a6a6" stroke-width="0.8" fill="none"/>
<text x="377.05" y="145.90" class="t" text-anchor="middle">P10</text>
<text x="322.95" y="190.70" class="k" text-anchor="end">0</text>
<text x="322.95" y="180.40" class="k" text-anchor="end">0.1</text>
<text x="322.95" y="170.10" class="k" text-anchor="end">0.2</text>
<text x="322.95" y="159.80" class="k" text-anchor="end">0.3</text>
<text x="322.95" y="149.50" class="k" text-anchor="end">0.4</text>
<text x="334.18" y="200.40" class="k" text-anchor="middle">5</text>
<text x="343.69" y="200.40" class="k" text-anchor="middle">15</text>
<text x="353.20" y="200.40" class="k" text-anchor="middle">25</text>
<text x="362.71" y="200.40" class="k" text-anchor="middle">35</text>
<text x="372.22" y="200.40" class="k" text-anchor="middle">45</text>
<text x="381.72" y="200.40" class="k" text-anchor="middle">55</text>
<text x="391.23" y="200.40" class="k" text-anchor="middle">65</text>
<text x="400.74" y="200.40" class="k" text-anchor="middle">75</text>
<text x="410.25" y="200.40" class="k" text-anchor="middle">85</text>
<text x="419.76" y="200.40" class="k" text-anchor="middle">95</text>
<text x="376.80" y="206.00" class="xl" text-anchor="middle">Distance range (% of the maximum distance)</text>
<text transform="translate(312.70 170.90) rotate(-90)" class="yl" text-anchor="middle">Correlation values</text>
<path d="M49.20 256.40H153.80" stroke="#9a9a9a" stroke-width="0.7"/>
<rect x="53.95" y="241.05" width="9.51" height="15.35" fill="#ff00ff" stroke="#000" stroke-width="0.45"/>
<rect x="63.46" y="241.77" width="9.51" height="14.63" fill="#ff00ff" stroke="#000" stroke-width="0.45"/>
<rect x="72.97" y="244.97" width="9.51" height="11.43" fill="#ff00ff" stroke="#000" stroke-width="0.45"/>
<rect x="82.48" y="246.82" width="9.51" height="9.58" fill="#ff00ff" stroke="#000" stroke-width="0.45"/>
<rect x="91.99" y="245.79" width="9.51" height="10.61" fill="#ff00ff" stroke="#000" stroke-width="0.45"/>
<rect x="101.50" y="246.41" width="9.51" height="9.99" fill="#ff00ff" stroke="#000" stroke-width="0.45"/>
<rect x="111.01" y="245.07" width="9.51" height="11.33" fill="#ff00ff" stroke="#000" stroke-width="0.45"/>
<rect x="120.52" y="247.95" width="9.51" height="8.45" fill="#ff00ff" stroke="#000" stroke-width="0.45"/>
<rect x="130.03" y="249.29" width="9.51" height="7.11" fill="#ff00ff" stroke="#000" stroke-width="0.45"/>
<rect x="139.54" y="252.59" width="9.51" height="3.81" fill="#ff00ff" stroke="#000" stroke-width="0.45"/>
<rect x="57.56" y="245.38" width="2.30" height="11.02" fill="#000"/>
<rect x="67.07" y="245.69" width="2.30" height="10.71" fill="#000"/>
<rect x="76.58" y="247.95" width="2.30" height="8.45" fill="#000"/>
<rect x="86.09" y="248.26" width="2.30" height="8.14" fill="#000"/>
<rect x="95.60" y="247.95" width="2.30" height="8.45" fill="#000"/>
<rect x="105.10" y="251.15" width="2.30" height="5.25" fill="#000"/>
<rect x="114.61" y="252.07" width="2.30" height="4.33" fill="#000"/>
<rect x="124.12" y="252.90" width="2.30" height="3.50" fill="#000"/>
<rect x="133.63" y="252.90" width="2.30" height="3.50" fill="#000"/>
<rect x="143.14" y="252.59" width="2.30" height="3.81" fill="#000"/>
<rect x="49.20" y="215.20" width="104.60" height="46.20" fill="none" stroke="#a6a6a6" stroke-width="0.9"/>
<path d="M49.20 261.40H153.80" stroke="#7a7a7a" stroke-width="0.9"/>
<path d="M58.71 261.40v-1.1M58.71 215.20v1.1M68.22 261.40v-1.1M68.22 215.20v1.1M77.73 261.40v-1.1M77.73 215.20v1.1M87.24 261.40v-1.1M87.24 215.20v1.1M96.75 261.40v-1.1M96.75 215.20v1.1M106.25 261.40v-1.1M106.25 215.20v1.1M115.76 261.40v-1.1M115.76 215.20v1.1M125.27 261.40v-1.1M125.27 215.20v1.1M134.78 261.40v-1.1M134.78 215.20v1.1M144.29 261.40v-1.1M144.29 215.20v1.1M49.20 256.40h1.1M153.80 256.40h-1.1M49.20 246.10h1.1M153.80 246.10h-1.1M49.20 235.80h1.1M153.80 235.80h-1.1M49.20 225.50h1.1M153.80 225.50h-1.1M49.20 215.20h1.1M153.80 215.20h-1.1" stroke="#a6a6a6" stroke-width="0.8" fill="none"/>
<text x="101.75" y="213.30" class="t" text-anchor="middle">P11</text>
<text x="47.65" y="258.10" class="k" text-anchor="end">0</text>
<text x="47.65" y="247.80" class="k" text-anchor="end">0.1</text>
<text x="47.65" y="237.50" class="k" text-anchor="end">0.2</text>
<text x="47.65" y="227.20" class="k" text-anchor="end">0.3</text>
<text x="47.65" y="216.90" class="k" text-anchor="end">0.4</text>
<text x="58.88" y="267.80" class="k" text-anchor="middle">5</text>
<text x="68.39" y="267.80" class="k" text-anchor="middle">15</text>
<text x="77.90" y="267.80" class="k" text-anchor="middle">25</text>
<text x="87.41" y="267.80" class="k" text-anchor="middle">35</text>
<text x="96.92" y="267.80" class="k" text-anchor="middle">45</text>
<text x="106.42" y="267.80" class="k" text-anchor="middle">55</text>
<text x="115.93" y="267.80" class="k" text-anchor="middle">65</text>
<text x="125.44" y="267.80" class="k" text-anchor="middle">75</text>
<text x="134.95" y="267.80" class="k" text-anchor="middle">85</text>
<text x="144.46" y="267.80" class="k" text-anchor="middle">95</text>
<text x="101.50" y="273.40" class="xl" text-anchor="middle">Distance range (% of the maximum distance)</text>
<text transform="translate(37.40 238.30) rotate(-90)" class="yl" text-anchor="middle">Correlation values</text>
<path d="M187.10 256.40H291.70" stroke="#9a9a9a" stroke-width="0.7"/>
<rect x="191.85" y="237.24" width="9.51" height="19.16" fill="#ff00ff" stroke="#000" stroke-width="0.45"/>
<rect x="201.36" y="237.24" width="9.51" height="19.16" fill="#ff00ff" stroke="#000" stroke-width="0.45"/>
<rect x="210.87" y="242.29" width="9.51" height="14.11" fill="#ff00ff" stroke="#000" stroke-width="0.45"/>
<rect x="220.38" y="248.26" width="9.51" height="8.14" fill="#ff00ff" stroke="#000" stroke-width="0.45"/>
<rect x="229.89" y="248.98" width="9.51" height="7.42" fill="#ff00ff" stroke="#000" stroke-width="0.45"/>
<rect x="239.40" y="246.10" width="9.51" height="10.30" fill="#ff00ff" stroke="#000" stroke-width="0.45"/>
<rect x="248.91" y="244.66" width="9.51" height="11.74" fill="#ff00ff" stroke="#000" stroke-width="0.45"/>
<rect x="258.42" y="244.35" width="9.51" height="12.05" fill="#ff00ff" stroke="#000" stroke-width="0.45"/>
<rect x="267.93" y="243.32" width="9.51" height="13.08" fill="#ff00ff" stroke="#000" stroke-width="0.45"/>
<rect x="277.44" y="247.64" width="9.51" height="8.76" fill="#ff00ff" stroke="#000" stroke-width="0.45"/>
<rect x="195.46" y="235.39" width="2.30" height="21.01" fill="#000"/>
<rect x="204.97" y="236.83" width="2.30" height="19.57" fill="#000"/>
<rect x="214.48" y="238.68" width="2.30" height="17.72" fill="#000"/>
<rect x="223.99" y="241.05" width="2.30" height="15.35" fill="#000"/>
<rect x="233.50" y="243.32" width="2.30" height="13.08" fill="#000"/>
<rect x="243.00" y="245.79" width="2.30" height="10.61" fill="#000"/>
<rect x="252.51" y="246.82" width="2.30" height="9.58" fill="#000"/>
<rect x="262.02" y="249.29" width="2.30" height="7.11" fill="#000"/>
<rect x="271.53" y="251.56" width="2.30" height="4.84" fill="#000"/>
<rect x="281.04" y="252.59" width="2.30" height="3.81" fill="#000"/>
<rect x="187.10" y="215.20" width="104.60" height="46.20" fill="none" stroke="#a6a6a6" stroke-width="0.9"/>
<path d="M187.10 261.40H291.70" stroke="#7a7a7a" stroke-width="0.9"/>
<path d="M196.61 261.40v-1.1M196.61 215.20v1.1M206.12 261.40v-1.1M206.12 215.20v1.1M215.63 261.40v-1.1M215.63 215.20v1.1M225.14 261.40v-1.1M225.14 215.20v1.1M234.65 261.40v-1.1M234.65 215.20v1.1M244.15 261.40v-1.1M244.15 215.20v1.1M253.66 261.40v-1.1M253.66 215.20v1.1M263.17 261.40v-1.1M263.17 215.20v1.1M272.68 261.40v-1.1M272.68 215.20v1.1M282.19 261.40v-1.1M282.19 215.20v1.1M187.10 256.40h1.1M291.70 256.40h-1.1M187.10 246.10h1.1M291.70 246.10h-1.1M187.10 235.80h1.1M291.70 235.80h-1.1M187.10 225.50h1.1M291.70 225.50h-1.1M187.10 215.20h1.1M291.70 215.20h-1.1" stroke="#a6a6a6" stroke-width="0.8" fill="none"/>
<text x="239.65" y="213.30" class="t" text-anchor="middle">P12</text>
<text x="185.55" y="258.10" class="k" text-anchor="end">0</text>
<text x="185.55" y="247.80" class="k" text-anchor="end">0.1</text>
<text x="185.55" y="237.50" class="k" text-anchor="end">0.2</text>
<text x="185.55" y="227.20" class="k" text-anchor="end">0.3</text>
<text x="185.55" y="216.90" class="k" text-anchor="end">0.4</text>
<text x="196.78" y="267.80" class="k" text-anchor="middle">5</text>
<text x="206.29" y="267.80" class="k" text-anchor="middle">15</text>
<text x="215.80" y="267.80" class="k" text-anchor="middle">25</text>
<text x="225.31" y="267.80" class="k" text-anchor="middle">35</text>
<text x="234.82" y="267.80" class="k" text-anchor="middle">45</text>
<text x="244.32" y="267.80" class="k" text-anchor="middle">55</text>
<text x="253.83" y="267.80" class="k" text-anchor="middle">65</text>
<text x="263.34" y="267.80" class="k" text-anchor="middle">75</text>
<text x="272.85" y="267.80" class="k" text-anchor="middle">85</text>
<text x="282.36" y="267.80" class="k" text-anchor="middle">95</text>
<text x="239.40" y="273.40" class="xl" text-anchor="middle">Distance range (% of the maximum distance)</text>
<text transform="translate(175.30 238.30) rotate(-90)" class="yl" text-anchor="middle">Correlation values</text>

<path d="M34.9 1.7 Q27.5 2.0 26.6 3.6 Q26.2 4.5 26.2 6 L26.2 65 Q26.2 68.2 23.5 68.5 L17.2 68.6 M23.5 68.6 Q26.2 68.8 26.2 72 L26.2 132.5 Q26.3 135 29 135.2 L35.1 135.6" fill="none" stroke="#000" stroke-width="1.7" stroke-linecap="round" stroke-linejoin="round"/>
<path d="M35.1 139.8 Q27.5 140.1 26.2 141.8 Q25.8 142.6 25.8 144.5 L25.8 205 Q25.8 208.4 23.2 208.65 L17.0 208.7 M23.2 208.8 Q25.8 209 25.8 212 L26.0 273.5 Q26.1 276.3 29 276.5 L34.4 276.7" fill="none" stroke="#000" stroke-width="1.7" stroke-linecap="round" stroke-linejoin="round"/>


<text transform="translate(9.9 69.35) rotate(-90)" class="sd" text-anchor="middle" textLength="57" lengthAdjust="spacingAndGlyphs">Seizure-Free</text>
<text transform="translate(8.8 206.4) rotate(-89.4)" class="sd" text-anchor="middle" textLength="80.4" lengthAdjust="spacingAndGlyphs">Non-Seizure-Free</text>


<rect x="455" y="82.6" width="6.2" height="13.4" fill="#ff00ff"/>
<text x="462.8" y="91.6" class="lg" fill="#ff00ff" stroke="#ff00ff" textLength="46.4" lengthAdjust="spacingAndGlyphs">For seeds in ROI</text>
<text x="509.6" y="92.9" class="sb" fill="#ff00ff" textLength="6" lengthAdjust="spacingAndGlyphs">EZ</text>
<rect x="456.9" y="105" width="2.9" height="11.8" fill="#000"/>
<text x="461.8" y="113.9" class="lg" fill="#000" stroke="#000" textLength="47" lengthAdjust="spacingAndGlyphs">For seeds in ROI</text>
<text x="509.2" y="115.1" class="sb2" fill="#000" textLength="8.4" lengthAdjust="spacingAndGlyphs">Non-EZ</text>

</svg>
</body></html>
